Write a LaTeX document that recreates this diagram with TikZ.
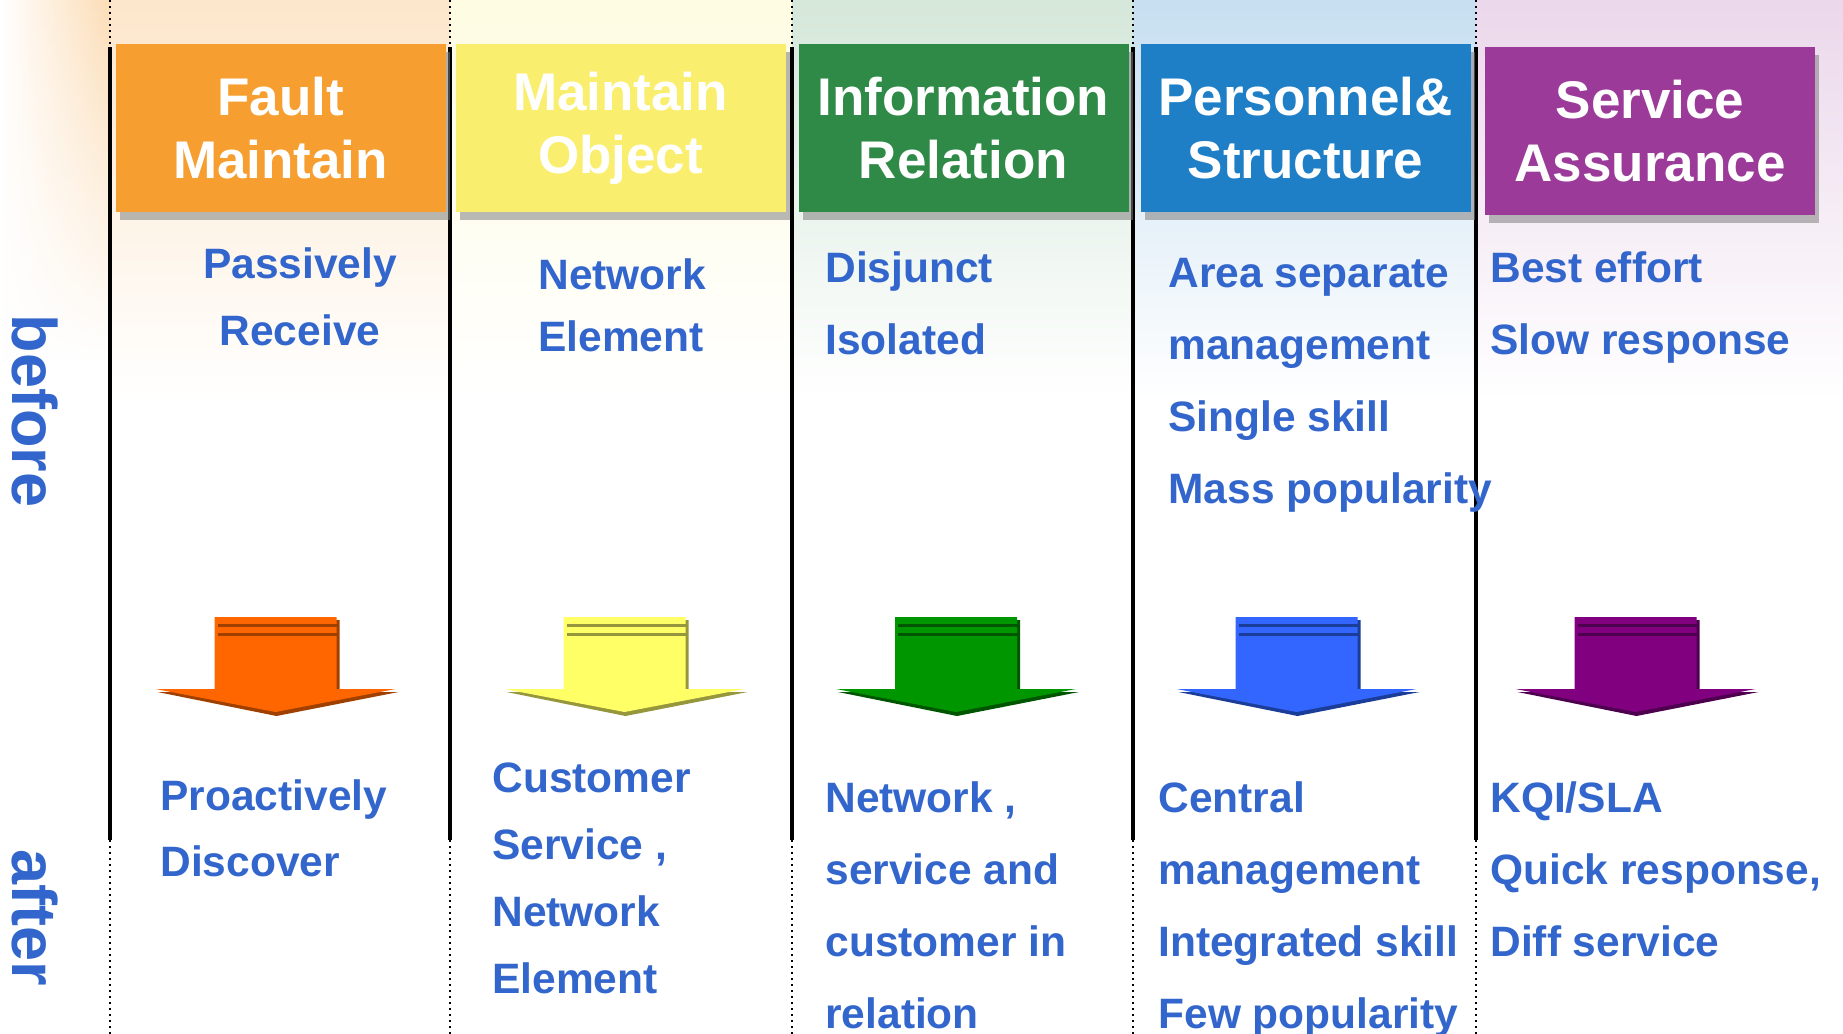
\documentclass[tikz,border=0pt]{standalone}
\usepackage{fontspec}
\setmainfont{Liberation Sans}
\usetikzlibrary{shadows}
\usetikzlibrary{fadings}
\usepackage{xcolor}

\definecolor{txtblue}{RGB}{51,102,204}
\definecolor{hdrorange}{RGB}{246,158,48}
\definecolor{hdryellow}{RGB}{250,238,110}
\definecolor{hdrgreen}{RGB}{46,138,70}
\definecolor{hdrblue}{RGB}{30,126,198}
\definecolor{hdrpurple}{RGB}{155,58,153}
\definecolor{arrorange}{RGB}{255,102,0}
\definecolor{arrorangedk}{RGB}{160,64,0}
\definecolor{arryellow}{RGB}{255,255,102}
\definecolor{arryellowdk}{RGB}{150,150,60}
\definecolor{arrgreen}{RGB}{0,150,0}
\definecolor{arrgreendk}{RGB}{0,85,0}
\definecolor{arrblue}{RGB}{51,102,255}
\definecolor{arrbluedk}{RGB}{26,61,153}
\definecolor{arrpurple}{RGB}{128,0,128}
\definecolor{arrpurpledk}{RGB}{77,0,77}

\begin{document}
\begin{tikzpicture}[x=0.5pt, y=-0.5pt,
    hdr/.style={minimum width=165pt, minimum height=84pt, inner sep=0pt,
        text=white, align=center, font=\fontsize{26.5}{31.5}\selectfont\bfseries,
        drop shadow={shadow xshift=2pt, shadow yshift=-4pt, opacity=.55}},
    txt/.style={text=txtblue, inner sep=0pt, align=left, anchor=base west,
        font=\fontsize{21.25}{36}\selectfont\bfseries},
    side/.style={text=txtblue, inner sep=0pt, rotate=-90,
        font=\fontsize{31.5}{36}\selectfont\bfseries},
    sep/.style={line width=1.6pt},
    sepdot/.style={line width=1pt, dotted}]
    \useasboundingbox (0,0) rectangle (1843,1034);
    \fill[white] (0,0) rectangle (1843,1034);

    % glow behind the headers
    \shade[left color=white, right color=hdrorange!35, path fading=south] (0,0) rectangle (110,360);
    \shade[top color=hdrorange!25, middle color=hdrorange!45, bottom color=white] (110,0) rectangle (450,400);
    \shade[top color=hdryellow!20, middle color=hdryellow!50, bottom color=white] (450,0) rectangle (792,400);
    \shade[top color=hdrgreen!20, middle color=hdrgreen!35, bottom color=white] (792,0) rectangle (1133,400);
    \shade[top color=hdrblue!25, middle color=hdrblue!35, bottom color=white] (1133,0) rectangle (1476,400);
    \shade[top color=hdrpurple!20, middle color=hdrpurple!35, bottom color=white] (1476,0) rectangle (1843,400);

    % column separators
    \foreach \sx in {110, 450, 792, 1133, 1476} {
        \draw[sepdot] (\sx,0) -- (\sx,47);
        \draw[sep] (\sx,47) -- (\sx,840);
        \draw[sepdot] (\sx,840) -- (\sx,1034);
    }

    % headers
    \node[hdr, fill=hdrorange] (fault) at (280.5,128) {Fault\\Maintain};
    \node[hdr, fill=hdryellow] (object) at (620.5,128) {Maintain\\Object};
    \node[hdr, fill=hdrgreen] (info) at (963.5,128) {Information\\Relation};
    \node[hdr, fill=hdrblue] (staff) at (1305.5,128) {Personnel\&\\Structure};
    \node[hdr, fill=hdrpurple] (assure) at (1650,131) {Service\\Assurance};

    % side labels
    \node[side] (before) at (35,411) {before};
    \node[side] (after) at (35,918) {after};

    % before (anchored on the last line)
    \node[txt, align=center, anchor=base, font=\fontsize{21.25}{33.5}\selectfont\bfseries] (faultb) at (300,345) {Passively\\Receive};
    \node[txt, font=\fontsize{21.25}{31}\selectfont\bfseries] (objectb) at (538,351) {Network\\Element};
    \node[txt] (infob) at (825,354) {Disjunct\\Isolated};
    \node[txt] (staffb) at (1168,503) {Area separate\\management\\Single skill\\Mass popularity};
    \node[txt] (assureb) at (1490,354) {Best effort\\Slow response};

    % arrows
    \foreach \cx/\c/\d in {275.5/arrorange/arrorangedk, 624.5/arryellow/arryellowdk,
        956/arrgreen/arrgreendk, 1296.5/arrblue/arrbluedk, 1635.5/arrpurple/arrpurpledk} {
        \fill[\d] (\cx-59,620) -- (\cx+64,620) -- (\cx+64,692) -- (\cx+123,692)
            -- (\cx+1,716) -- (\cx-118,692) -- (\cx-59,692) -- cycle;
        \fill[\c] (\cx-61,617) -- (\cx+61,617) -- (\cx+61,689) -- (\cx+120,689)
            -- (\cx,712) -- (\cx-120,689) -- (\cx-61,689) -- cycle;
        \draw[\d, line width=1.5pt] (\cx-58,625) -- (\cx+62,625);
        \draw[\d, line width=1.5pt] (\cx-58,634) -- (\cx+62,634);
    }

    % after
    \node[txt, font=\fontsize{21.25}{33}\selectfont\bfseries] (faulta) at (160,876) {Proactively\\Discover};
    \node[txt, font=\fontsize{21.25}{33.5}\selectfont\bfseries] (objecta) at (492,993) {Customer\\Service ,\\Network\\Element};
    \node[txt] (infoa) at (825,1028) {Network ,\\service and\\customer in\\relation};
    \node[txt] (staffa) at (1158,1028) {Central\\management\\Integrated skill\\Few popularity};
    \node[txt] (assurea) at (1490,956) {KQI/SLA\\Quick response,\\Diff service};
\end{tikzpicture}
\end{document}
